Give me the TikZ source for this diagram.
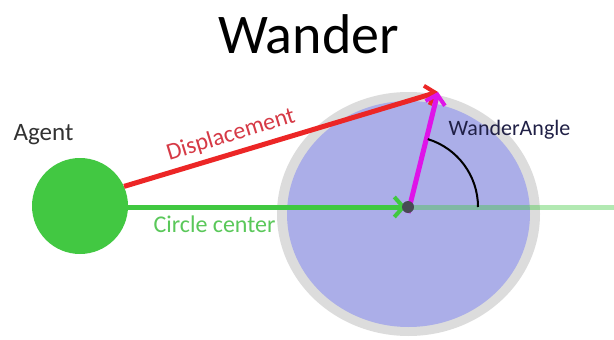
\documentclass[tikz,border=0pt]{standalone}
\usepackage{fontspec}
\setmainfont{Carlito}
\usetikzlibrary{arrows.meta,shapes.geometric}
\definecolor{agentgreen}{RGB}{66,200,66}
\definecolor{linegreen}{RGB}{64,200,64}
\definecolor{labelgreen}{RGB}{90,200,90}
\definecolor{dispred}{RGB}{236,38,38}
\definecolor{labelred}{RGB}{214,58,70}
\definecolor{wmag}{RGB}{222,20,232}
\definecolor{ringgray}{RGB}{220,220,220}
\definecolor{wblue}{RGB}{171,174,232}
\definecolor{dotgray}{RGB}{72,74,84}
\definecolor{navy}{RGB}{32,32,70}
\definecolor{agentgray}{RGB}{50,50,50}
\tikzset{
  vec/.style={line width=5pt, -{Straight Barb[length=9pt,width=20pt,line width=4pt]}},
  lbl/.style={font=\fontsize{24}{27}\selectfont, inner sep=0pt, anchor=base},
}
\begin{document}
\begin{tikzpicture}[x=1pt,y=-1pt]
\useasboundingbox[fill=white] (0,0) rectangle (614,340);
% wander circle
\node[ellipse, fill=ringgray, minimum width=263pt, minimum height=244pt, inner sep=0pt] (ring) at (408.5,214) {};
\node[ellipse, fill=wblue, minimum width=243pt, minimum height=226pt, inner sep=0pt] (disc) at (408.5,214) {};
% agent
\node[circle, fill=agentgreen, minimum size=96pt, inner sep=0pt] (agent) at (80,206) {};
% centre dot and target point
\coordinate (ctr) at (408,207);
\coordinate (tgt) at (438,92);
\coordinate (farright) at (614,207);
\coordinate (arcstart) at (478,207);
% faint continuation
\draw[line width=5pt, linegreen, opacity=0.4] (ctr) -- (farright);
% circle-center vector
\draw[vec, linegreen] (agent.east |- ctr) -- ([xshift=-2pt]ctr);
% displacement vector
\draw[vec, dispred] (agent.24) -- (tgt);
% wander vector
\draw[vec, wmag] ([yshift=-6pt]ctr) -- (tgt);
% angle arc
\draw[line width=2pt, black] (arcstart) arc[start angle=0, end angle=-73, radius=71];
% dot
\node[circle, fill=dotgray, minimum size=12pt, inner sep=0pt] (dot) at (ctr) {};
% labels
\node[font=\fontsize{56}{60}\selectfont, inner sep=0pt, anchor=base] (title) at (308.5,53) {Wander};
\node[lbl, text=agentgray, font=\fontsize{25}{28}\selectfont] (agentlbl) at (43.5,140) {Agent};
\node[font=\fontsize{24}{27}\selectfont, inner sep=0pt, text=labelred, rotate=17] (displbl) at (231,135) {Displacement};
\node[lbl, text=labelgreen] (cclbl) at (214.5,232) {Circle center};
\node[lbl, text=navy, font=\fontsize{22}{25}\selectfont] (walbl) at (509.5,135) {WanderAngle};
\end{tikzpicture}
\end{document}
